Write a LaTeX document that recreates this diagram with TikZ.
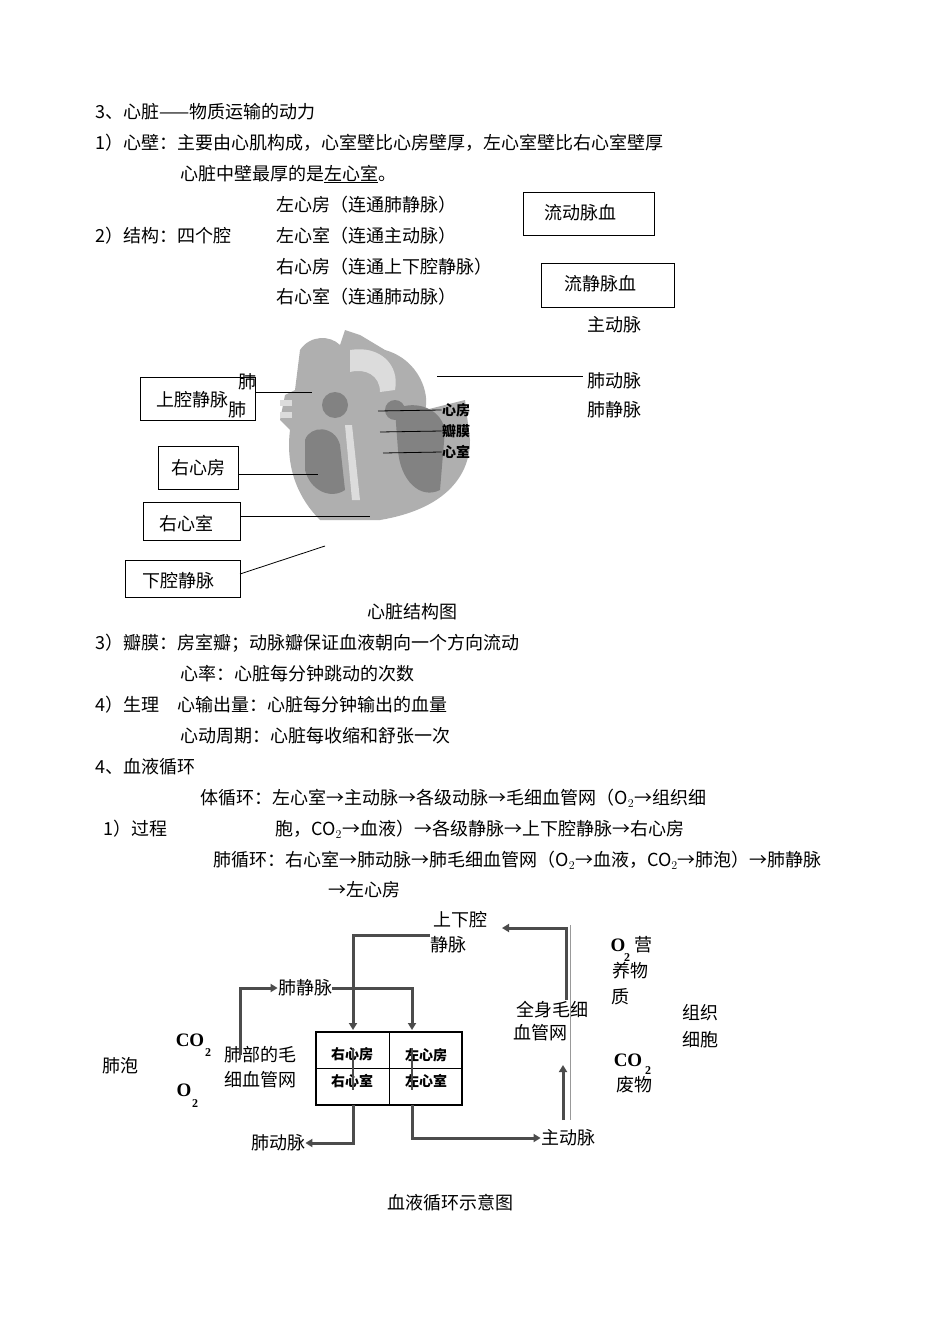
\documentclass[tikz,border=0pt]{standalone}
\usepackage{fontspec}
\setmainfont{Noto Sans CJK SC}
\newfontfamily\numfont{Liberation Serif}
\usetikzlibrary{arrows.meta}
\tikzset{
    every picture/.style={line width=0.8pt},
    % plain text lines
    line text/.style={anchor=west, inner sep=0pt, font=\fontsize{18}{18}\selectfont},
    mid text/.style={inner sep=0pt, font=\fontsize{18}{18}\selectfont},
    label box/.style={draw, line width=1pt},
    cell text/.style={inner sep=0pt, font=\bfseries\fontsize{14}{14}\selectfont},
    flow/.style={draw=black!70, line width=3pt},
    flow arrow/.style={flow, -{Triangle[length=7pt,width=8pt]}},
    chem/.style={inner sep=0pt, font=\numfont\bfseries\fontsize{19}{19}\selectfont},
    chem sub/.style={inner sep=0pt, font=\numfont\bfseries\fontsize{12}{12}\selectfont}
}
\definecolor{heartDark}{RGB}{130,130,130}
\definecolor{heartMid}{RGB}{175,175,175}
\definecolor{heartLight}{RGB}{220,220,220}

\begin{document}
\begin{tikzpicture}[x=1pt,y=-1pt]

% Set the canvas size
\path[use as bounding box, fill=white] (0,0) rectangle (950,1343);

% section 3 text
\node[line text] (t1) at (95,112) {3、心脏——物质运输的动力};
\node[line text] (t2) at (95,143) {1）心壁：主要由心肌构成，心室壁比心房壁厚，左心室壁比右心室壁厚};
\node[line text] (t3) at (180,174) {心脏中壁最厚的是\underline{左心室}。};
\node[line text] (t4) at (276,205) {左心房（连通肺静脉）};
\node[line text] (t5) at (95,236) {2）结构：四个腔};
\node[line text] (t6) at (276,236) {左心室（连通主动脉）};
\node[line text] (t7) at (276,267) {右心房（连通上下腔静脉）};
\node[line text] (t8) at (276,297) {右心室（连通肺动脉）};

\draw[label box] (523,193) rectangle (654,235);
\node[mid text] (artblood) at (580,213) {流动脉血};
\draw[label box] (541,263) rectangle (674,307);
\node[mid text] (venblood) at (600,284) {流静脉血};

% heart picture (rough)
\fill[heartMid] (300,350) .. controls (310,335) and (330,335) .. (340,345)
  -- (345,330) -- (360,335) -- (385,350) .. controls (420,360) and (430,395) .. (425,410)
  -- (465,400) -- (470,440) .. controls (470,480) and (440,510) .. (380,520)
  -- (320,520) .. controls (300,500) and (285,470) .. (290,430)
  -- (280,420) -- (285,395) -- (295,390) -- cycle;
\fill[heartLight] (350,350) .. controls (380,345) and (400,365) .. (395,390)
  -- (380,392) .. controls (380,375) and (365,368) .. (350,372) -- cycle;
\fill[heartDark] (305,440) .. controls (310,425) and (335,425) .. (340,445)
  -- (345,490) .. controls (330,500) and (310,490) .. (305,470) -- cycle;
\fill[heartDark] (395,410) .. controls (410,400) and (440,405) .. (445,430)
  -- (440,490) .. controls (420,500) and (400,480) .. (398,450) -- cycle;
\fill[heartDark] (335,405) circle (13);
\fill[heartDark] (395,410) circle (10);
\fill[heartLight] (345,425) -- (352,500) -- (360,500) -- (352,425) -- cycle;
\fill[heartLight] (280,400) rectangle (292,406);
\fill[heartLight] (280,412) rectangle (292,418);

% labels around heart
\draw[label box] (140,377) rectangle (255,420);
\node[mid text] (svc) at (192,400) {上腔静脉};
\node[mid text] (fei1) at (247,382) {肺};
\node[mid text] (fei2) at (237,410) {肺};
\draw (255,392) -- (312,392);
\draw (437,376) -- (583,376);
\node[mid text] (main) at (614,325) {主动脉};
\node[mid text] (pa) at (614,381) {肺动脉};
\node[mid text] (pv) at (614,410) {肺静脉};
\node[cell text] (atr) at (456,410) {心房};
\node[cell text] (valve) at (456,431) {瓣膜};
\node[cell text] (vent) at (456,452) {心室};
\draw (378,411) -- (atr.west);
\draw (380,432) -- (valve.west);
\draw (383,453) -- (vent.west);

\draw[label box] (158,446) rectangle (238,489);
\node[mid text] (ra) at (198,468) {右心房};
\draw (238,474) -- (318,474);
\draw[label box] (143,502) rectangle (240,540);
\node[mid text] (rv) at (186,524) {右心室};
\draw (240,516) -- (370,516);
\draw[label box] (125,560) rectangle (240,597);
\node[mid text] (ivc) at (178,581) {下腔静脉};
\draw (240,574) -- (325,546);
\node[mid text] (cap1) at (412,612) {心脏结构图};

% sections 3 and 4 text
\node[line text] (t9) at (95,643) {3）瓣膜：房室瓣；动脉瓣保证血液朝向一个方向流动};
\node[line text] (t10) at (180,674) {心率：心脏每分钟跳动的次数};
\node[line text] (t11) at (95,705) {4）生理\quad 心输出量：心脏每分钟输出的血量};
\node[line text] (t12) at (180,736) {心动周期：心脏每收缩和舒张一次};
\node[line text] (t13) at (95,767) {4、血液循环};
\node[line text] (t14) at (200,798) {体循环：左心室→主动脉→各级动脉→毛细血管网（O$_2$→组织细};
\node[line text] (t15) at (103,829) {1）过程};
\node[line text] (t16) at (275,829) {胞，CO$_2$→血液）→各级静脉→上下腔静脉→右心房};
\node[line text] (t17) at (213,860) {肺循环：右心室→肺动脉→肺毛细血管网（O$_2$→血液，CO$_2$→肺泡）→肺静脉};
\node[line text] (t18) at (328,890) {→左心房};

% circulation diagram
\draw[line width=2.5pt] (316,1032) rectangle (462,1105);
\draw (389,1032) -- (389,1105);
\draw (316,1068) -- (462,1068);
\node[cell text] (rac) at (352,1054) {右心房};
\node[cell text] (lac) at (426,1055) {左心房};
\node[cell text] (rvc) at (352,1081) {右心室};
\node[cell text] (lvc) at (426,1081) {左心室};
\draw[black!70, line width=2pt] (353,1048) -- (353,1090);
\draw[black!70, line width=2pt] (412,1048) -- (412,1090);

\node[mid text] (vc1) at (460,920) {上下腔};
\node[mid text] (vc2) at (448,945) {静脉};
\node[mid text] (pvd) at (305,988) {肺静脉};
\node[mid text] (pad) at (278,1143) {肺动脉};
\node[mid text] (aod) at (568,1138) {主动脉};
\node[mid text] (bc1) at (552,1010) {全身毛细};
\node[mid text] (bc2) at (540,1033) {血管网};
\node[mid text] (lc1) at (260,1055) {肺部的毛};
\node[mid text] (lc2) at (260,1080) {细血管网};
\node[mid text] (alv) at (120,1066) {肺泡};
\node[mid text] (tc1) at (700,1013) {组织};
\node[mid text] (tc2) at (700,1040) {细胞};
\node[mid text] (nu1) at (630,971) {养物};
\node[mid text] (nu2) at (620,997) {质};
\node[mid text] (nu0) at (643,945) {营};
\node[chem] (o2a) at (618,945) {O};
\node[chem sub] at (627,958) {2};
\node[chem] (co2b) at (628,1060) {CO};
\node[chem sub] at (648,1071) {2};
\node[mid text] (waste) at (634,1085) {废物};
\node[chem] (co2a) at (190,1040) {CO};
\node[chem sub] at (208,1053) {2};
\node[chem] (o2b) at (184,1090) {O};
\node[chem sub] at (195,1104) {2};
\node[mid text] (cap2) at (450,1203) {血液循环示意图};

\draw[black!40, line width=0.6pt] (570,925) -- (570,1120);
\draw[flow arrow] (566,1000) |- (502,928);
\draw[flow arrow] (430,935) -| (353,1030);
\draw[flow arrow] (240,1055) |- (pvd.west);
\draw[flow arrow] (pvd.east) -| (412,1030);
\draw[flow arrow] (353,1105) |- (pad.east);
\draw[flow arrow] (412,1105) |- (aod.west);
\draw[flow arrow] (563,1120) -- (563,1065);

\end{tikzpicture}
\end{document}
